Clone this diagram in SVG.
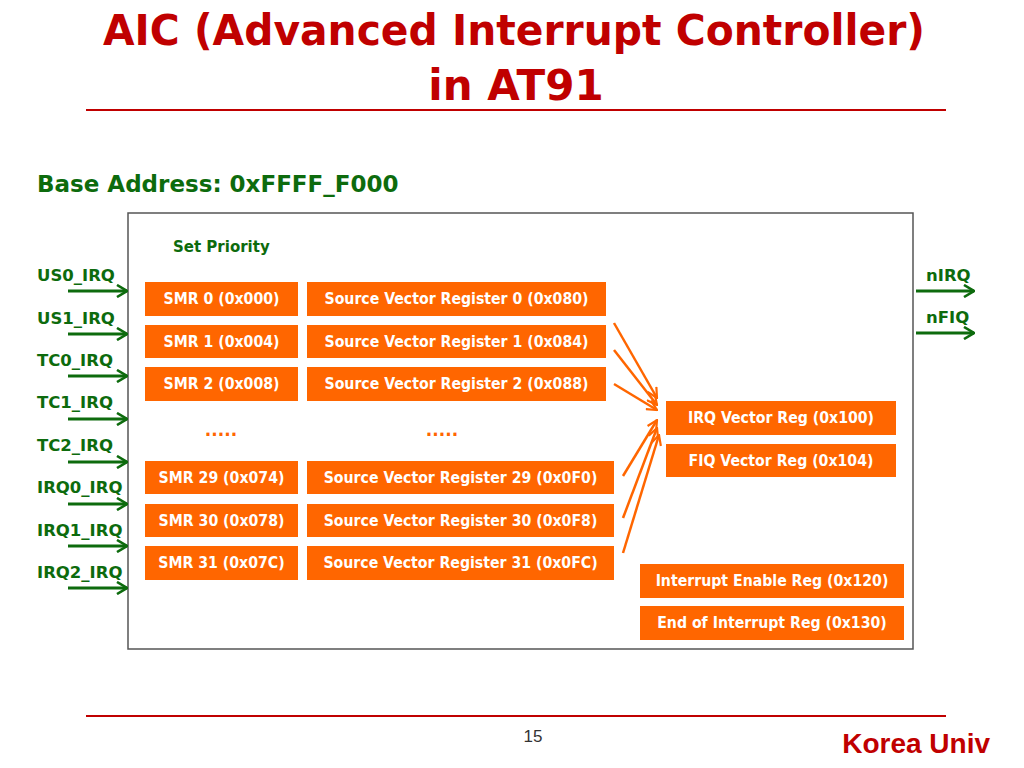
<svg xmlns="http://www.w3.org/2000/svg" width="1024" height="768" viewBox="0 0 1024 768">
<style>
.t{font-family:"DejaVu Sans Condensed","DejaVu Sans",sans-serif;font-weight:bold}
.n{font-family:"DejaVu Sans",sans-serif;font-weight:bold}
.title{fill:#c00000;font-size:42px}
.g{fill:#0d6b0d}
.lbl{font-size:16.5px}
.box{fill:#ff6600}
.bt{fill:#fff;font-size:15.7px;text-anchor:middle}
.ga{stroke:#0d6b0d;stroke-width:3;fill:none}
.oa{stroke:#ff6600;stroke-width:2.5;fill:none}
</style>
<defs>
<marker id="gh" viewBox="0 0 12 14" refX="11" refY="7" markerWidth="12" markerHeight="14" markerUnits="userSpaceOnUse" orient="auto">
<path d="M1,1 L11,7 L1,13" fill="none" stroke="#0d6b0d" stroke-width="2.6"/>
</marker>
<marker id="oh" viewBox="0 0 12 12" refX="11" refY="6" markerWidth="12" markerHeight="12" markerUnits="userSpaceOnUse" orient="auto">
<path d="M1,1 L11,6 L1,11" fill="none" stroke="#ff6600" stroke-width="2.2"/>
</marker>
</defs>
<rect width="1024" height="768" fill="#fff"/>
<g id="title">
<text class="n title" x="514" y="45" text-anchor="middle" textLength="822" lengthAdjust="spacingAndGlyphs">AIC (Advanced Interrupt Controller)</text>
<text class="n title" x="516" y="100" text-anchor="middle">in AT91</text>
<line x1="86" y1="110" x2="946" y2="110" stroke="#c00000" stroke-width="2"/>
</g>
<text class="n g" x="37" y="192" font-size="23">Base Address: 0xFFFF_F000</text>
<rect id="aic" x="128" y="213" width="785" height="436" fill="#fff" stroke="#555" stroke-width="1.5"/>
<text class="n g" x="173" y="252" font-size="15">Set Priority</text>
<g id="inputs">
<text class="n g lbl" x="37" y="281">US0_IRQ</text>
<text class="n g lbl" x="37" y="324">US1_IRQ</text>
<text class="n g lbl" x="37" y="366">TC0_IRQ</text>
<text class="n g lbl" x="37" y="408">TC1_IRQ</text>
<text class="n g lbl" x="37" y="451">TC2_IRQ</text>
<text class="n g lbl" x="37" y="493">IRQ0_IRQ</text>
<text class="n g lbl" x="37" y="536">IRQ1_IRQ</text>
<text class="n g lbl" x="37" y="578">IRQ2_IRQ</text>
</g>
<g id="outputs">
<text class="n g lbl" x="926" y="281">nIRQ</text>
<text class="n g lbl" x="926" y="323">nFIQ</text>
</g>
<g id="smr0"><rect class="box" x="145" y="282" width="153" height="34"/><text class="t bt" x="221.5" y="304">SMR 0 (0x000)</text></g>
<g id="smr1"><rect class="box" x="145" y="325" width="153" height="33"/><text class="t bt" x="221.5" y="347">SMR 1 (0x004)</text></g>
<g id="smr2"><rect class="box" x="145" y="367" width="153" height="34"/><text class="t bt" x="221.5" y="389">SMR 2 (0x008)</text></g>
<g id="smr29"><rect class="box" x="145" y="461" width="153" height="33"/><text class="t bt" x="221.5" y="483">SMR 29 (0x074)</text></g>
<g id="smr30"><rect class="box" x="145" y="504" width="153" height="33"/><text class="t bt" x="221.5" y="526">SMR 30 (0x078)</text></g>
<g id="smr31"><rect class="box" x="145" y="546" width="153" height="34"/><text class="t bt" x="221.5" y="568">SMR 31 (0x07C)</text></g>
<g id="svr0"><rect class="box" x="307" y="282" width="299" height="34"/><text class="t bt" x="456.5" y="304">Source Vector Register 0 (0x080)</text></g>
<g id="svr1"><rect class="box" x="307" y="325" width="299" height="33"/><text class="t bt" x="456.5" y="347">Source Vector Register 1 (0x084)</text></g>
<g id="svr2"><rect class="box" x="307" y="367" width="299" height="34"/><text class="t bt" x="456.5" y="389">Source Vector Register 2 (0x088)</text></g>
<g id="svr29"><rect class="box" x="307" y="461" width="307" height="33"/><text class="t bt" x="460.5" y="483">Source Vector Register 29 (0x0F0)</text></g>
<g id="svr30"><rect class="box" x="307" y="504" width="307" height="33"/><text class="t bt" x="460.5" y="526">Source Vector Register 30 (0x0F8)</text></g>
<g id="svr31"><rect class="box" x="307" y="546" width="307" height="34"/><text class="t bt" x="460.5" y="568">Source Vector Register 31 (0x0FC)</text></g>
<text class="n" x="221" y="436" fill="#ff6600" font-size="17" text-anchor="middle">.....</text>
<text class="n" x="442" y="436" fill="#ff6600" font-size="17" text-anchor="middle">.....</text>
<g id="irqvec"><rect class="box" x="666" y="401" width="230" height="34"/><text class="t bt" x="781" y="423">IRQ Vector Reg (0x100)</text></g>
<g id="fiqvec"><rect class="box" x="666" y="444" width="230" height="33"/><text class="t bt" x="781" y="466">FIQ Vector Reg (0x104)</text></g>
<g id="ier"><rect class="box" x="640" y="564" width="264" height="34"/><text class="t bt" x="772" y="586">Interrupt Enable Reg (0x120)</text></g>
<g id="eoi"><rect class="box" x="640" y="606" width="264" height="34"/><text class="t bt" x="772" y="628">End of Interrupt Reg (0x130)</text></g>
<g id="connectors">
<line class="ga" x1="68" y1="291" x2="127" y2="291" marker-end="url(#gh)"/>
<line class="ga" x1="68" y1="334" x2="127" y2="334" marker-end="url(#gh)"/>
<line class="ga" x1="68" y1="376" x2="127" y2="376" marker-end="url(#gh)"/>
<line class="ga" x1="68" y1="419" x2="127" y2="419" marker-end="url(#gh)"/>
<line class="ga" x1="68" y1="462" x2="127" y2="462" marker-end="url(#gh)"/>
<line class="ga" x1="68" y1="504" x2="127" y2="504" marker-end="url(#gh)"/>
<line class="ga" x1="68" y1="546" x2="127" y2="546" marker-end="url(#gh)"/>
<line class="ga" x1="68" y1="588" x2="127" y2="588" marker-end="url(#gh)"/>
<line class="ga" x1="916" y1="291" x2="974" y2="291" marker-end="url(#gh)"/>
<line class="ga" x1="916" y1="333" x2="974" y2="333" marker-end="url(#gh)"/>
<line class="oa" x1="614" y1="323" x2="657" y2="398" marker-end="url(#oh)"/>
<line class="oa" x1="614" y1="350" x2="657" y2="405" marker-end="url(#oh)"/>
<line class="oa" x1="614" y1="384" x2="657" y2="410" marker-end="url(#oh)"/>
<line class="oa" x1="623" y1="476" x2="657" y2="420" marker-end="url(#oh)"/>
<line class="oa" x1="623" y1="518" x2="657" y2="428" marker-end="url(#oh)"/>
<line class="oa" x1="623" y1="553" x2="659" y2="435" marker-end="url(#oh)"/>
</g>
<g id="footer">
<line x1="86" y1="716" x2="946" y2="716" stroke="#c00000" stroke-width="2"/>
<text x="533" y="742" font-family="Liberation Sans, Arial, sans-serif" font-size="17" fill="#333" text-anchor="middle">15</text>
<text x="990" y="753" font-family="Liberation Sans, Arial, sans-serif" font-weight="bold" font-size="28" fill="#c00000" text-anchor="end">Korea Univ</text>
</g>
</svg>
